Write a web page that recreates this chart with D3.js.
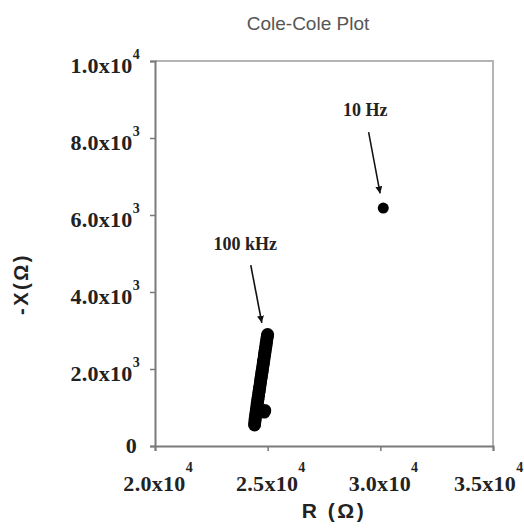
<!DOCTYPE html>
<html>
<head>
<meta charset="utf-8">
<script src="https://cdn.jsdelivr.net/npm/d3@7"></script>
<style>
  html, body { margin: 0; padding: 0; background: #fff; }
  svg { display: block; }
</style>
</head>
<body>
<svg id="chart" width="524" height="529"></svg>
<script>
// Impedance spectrum: real part R and negative imaginary part -X (ohms)
const sweepR = [24418, 24426, 24441, 24452, 24463, 24481, 24494, 24507, 24525, 24536,
                24551, 24566, 24580, 24597, 24611, 24624, 24642, 24655, 24671, 24684,
                24700, 24715, 24729, 24746, 24760, 24774, 24791, 24806, 24818, 24835,
                24850, 24864, 24879, 24893, 24910, 24925, 24938, 24953, 24968, 24984,
                24997, 24870, 24845];
const sweepX = [548, 602, 671, 735, 790, 862, 915, 968, 1031, 1090,
                1152, 1205, 1263, 1326, 1388, 1437, 1502, 1561, 1617, 1676,
                1738, 1792, 1853, 1911, 1968, 2027, 2090, 2146, 2203, 2262,
                2324, 2379, 2438, 2497, 2556, 2612, 2671, 2734, 2790, 2846,
                2893, 925, 880];
// Low-frequency end of the sweep
const lowFreqR = [30130];
const lowFreqX = [6180];

// Axis ticks (mantissa and power of ten)
const xTicks = [20000, 25000, 30000, 35000];
const xTickMant = ["2.0x10", "2.5x10", "3.0x10", "3.5x10"];
const xTickExp = ["4", "4", "4", "4"];
const yTicks = [0, 2000, 4000, 6000, 8000, 10000];
const yTickMant = ["0", "2.0x10", "4.0x10", "6.0x10", "8.0x10", "1.0x10"];
const yTickExp = ["", "3", "3", "3", "3", "4"];

// Frequency annotations: label position and arrow tail/head in data units
const noteText = ["10 Hz", "100 kHz"];
const noteLabelR = [29330, 24010];
const noteLabelX = [8560, 5080];
const noteTailR = [29480, 24250];
const noteTailX = [8150, 4700];
const noteHeadR = [29990, 24740];
const noteHeadX = [6560, 3200];

const svg = d3.select("#chart");
const W = 524, H = 529;
const m = { top: 61, right: 31, bottom: 83, left: 155 };

const x = d3.scaleLinear().domain([20000, 35000]).range([m.left, W - m.right]);
const y = d3.scaleLinear().domain([0, 10000]).range([H - m.bottom, m.top]);

const serif = "'Liberation Serif', 'Times New Roman', serif";
const sans = "'Liberation Sans', Arial, sans-serif";

// Title
svg.append("text")
  .attr("x", 308).attr("y", 30)
  .attr("text-anchor", "middle")
  .attr("font-family", sans).attr("font-size", 19)
  .attr("fill", "#555")
  .text("Cole-Cole Plot");

// Upper and right frame lines
svg.append("path")
  .attr("d", `M${x(20000)},${y(10000)}H${x(35000)}V${y(0)}`)
  .attr("fill", "none").attr("stroke", "#b4b4b4").attr("stroke-width", 2);

// Axes
const gx = svg.append("g").attr("transform", `translate(0,${y(0)})`)
  .call(d3.axisBottom(x).tickValues(xTicks).tickSize(5).tickPadding(24));
const gy = svg.append("g").attr("transform", `translate(${x(20000)},0)`)
  .call(d3.axisLeft(y).tickValues(yTicks).tickSize(5).tickPadding(10));

[gx, gy].forEach(g => {
  g.select(".domain").attr("stroke", "#7a7a7a").attr("stroke-width", 2);
  g.selectAll(".tick line").attr("stroke", "#7a7a7a").attr("stroke-width", 1.5);
  g.selectAll(".tick text")
    .attr("font-family", serif).attr("font-weight", "bold")
    .attr("font-size", 22).attr("letter-spacing", 0.3).attr("fill", "#222");
});

// x tick labels: mantissa centred under the tick, power of ten raised after it,
// nudged left when the label would run past the right edge
gx.selectAll(".tick text").each(function (d, i) {
  const t = d3.select(this).text(null).attr("text-anchor", "start");
  const main = t.append("tspan").text(xTickMant[i]);
  t.append("tspan").attr("dy", -19).attr("font-size", 14).text(xTickExp[i]);
  const mw = main.node().getComputedTextLength();
  const total = this.getBBox().width;
  let x0 = -mw / 2 - 1;
  const over = x(d) + x0 + total - (W - 1);
  if (over > 0) x0 -= over;
  t.attr("x", x0);
});

// y tick labels: right-aligned against the tick, power of ten raised
gy.selectAll(".tick text").each(function (d, i) {
  const t = d3.select(this).text(null).attr("text-anchor", "start");
  if (!yTickExp[i]) {
    t.attr("dy", "0.28em").text(yTickMant[i]);
    t.attr("x", -18 - this.getBBox().width);
    return;
  }
  t.attr("dy", "0.5em");
  t.append("tspan").text(yTickMant[i]);
  t.append("tspan").attr("dy", -14).attr("font-size", 14).text(yTickExp[i]);
  t.attr("x", -15 - this.getBBox().width);
});

// Axis titles
svg.append("text")
  .attr("x", 334).attr("y", 518)
  .attr("text-anchor", "middle")
  .attr("font-family", sans).attr("font-weight", "bold").attr("font-size", 21)
  .attr("letter-spacing", 2.5)
  .attr("fill", "#222")
  .text("R (Ω)");
svg.append("text")
  .attr("transform", "translate(28,284) rotate(-90)")
  .attr("text-anchor", "middle")
  .attr("font-family", sans).attr("font-weight", "bold").attr("font-size", 20)
  .attr("letter-spacing", 2.5)
  .attr("fill", "#222")
  .text("-X(Ω)");

// Data points
const pts = sweepR.map((r, i) => ({ r, xv: sweepX[i] }))
  .concat(lowFreqR.map((r, i) => ({ r, xv: lowFreqX[i], low: true })));
svg.append("g").selectAll("circle").data(pts).join("circle")
  .attr("cx", d => x(d.r))
  .attr("cy", d => y(d.xv))
  .attr("r", d => d.low ? 5.5 : 6.5)
  .attr("fill", "#000");

// Arrowhead
svg.append("defs").append("marker")
  .attr("id", "arrow")
  .attr("viewBox", "0 0 10 10")
  .attr("refX", 10).attr("refY", 5)
  .attr("markerWidth", 7).attr("markerHeight", 7)
  .attr("markerUnits", "userSpaceOnUse")
  .attr("orient", "auto")
  .append("path").attr("d", "M0,0L10,5L0,10Z").attr("fill", "#111");

// Frequency annotations
const notes = svg.append("g");
noteText.forEach((txt, i) => {
  notes.append("line")
    .attr("x1", x(noteTailR[i])).attr("y1", y(noteTailX[i]))
    .attr("x2", x(noteHeadR[i])).attr("y2", y(noteHeadX[i]))
    .attr("stroke", "#111").attr("stroke-width", 1.6)
    .attr("marker-end", "url(#arrow)");
  notes.append("text")
    .attr("x", x(noteLabelR[i])).attr("y", y(noteLabelX[i]))
    .attr("text-anchor", "middle")
    .attr("font-family", serif).attr("font-weight", "bold").attr("font-size", 18)
    .attr("fill", "#222")
    .text(txt);
});
</script>
</body>
</html>
